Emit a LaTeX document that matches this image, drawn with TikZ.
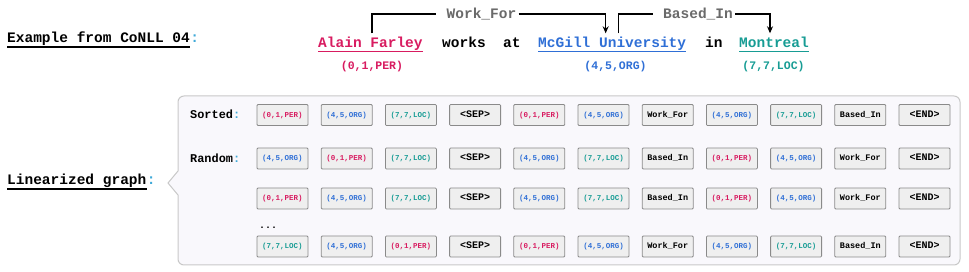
\documentclass[tikz,border=0pt]{standalone}
\usepackage{fontspec}
\setmonofont{Liberation Mono}
\usetikzlibrary{arrows.meta}
\definecolor{per}{HTML}{D81B60}
\definecolor{org}{HTML}{2F6FD6}
\definecolor{loc}{HTML}{179C94}
\definecolor{colonc}{HTML}{3FA9D8}
\definecolor{relg}{HTML}{6A6A6A}
\definecolor{panelfill}{HTML}{F9F8FC}
\definecolor{panelline}{HTML}{C8C8C8}
\definecolor{boxfill}{HTML}{EFEFEF}
\definecolor{boxline}{HTML}{8A8A8A}
\begin{document}
\begin{tikzpicture}[x=1pt,y=-1pt,
  big/.style={font=\ttfamily\bfseries\fontsize{14.5}{16}\selectfont, inner sep=0pt},
  word/.style={big, anchor=base west, inner ysep=4pt},
  sub/.style={font=\ttfamily\bfseries\fontsize{11.5}{13}\selectfont, inner sep=0pt, anchor=base},
  rel/.style={big, text=relg, text height=9pt, text depth=0pt, anchor=center},
  ul/.style={line width=1.2pt},
  conn/.style={line width=1.3pt, black},
  lab/.style={font=\ttfamily\bfseries\fontsize{11.9}{13}\selectfont, inner sep=0pt, anchor=base west},
  box/.style={draw=boxline, fill=boxfill, line width=0.8pt, rounded corners=1pt,
    minimum width=51pt, minimum height=21pt, inner sep=0pt,
    text height=6pt, text depth=1.5pt},
  tup/.style={box, font=\ttfamily\bfseries\fontsize{7.5}{8}\selectfont},
  pertok/.style={tup, text=per, node contents={(0,1,PER)}},
  orgtok/.style={tup, text=org, node contents={(4,5,ORG)}},
  loctok/.style={tup, text=loc, node contents={(7,7,LOC)}},
  septok/.style={box, font=\ttfamily\bfseries\fontsize{10}{11}\selectfont, node contents={<SEP>}},
  endtok/.style={box, font=\ttfamily\bfseries\fontsize{10}{11}\selectfont, node contents={<END>}},
  wftok/.style={box, font=\ttfamily\bfseries\fontsize{8.5}{9}\selectfont, node contents={Work\_For}},
  bitok/.style={box, font=\ttfamily\bfseries\fontsize{8.5}{9}\selectfont, node contents={Based\_In}},
]
\useasboundingbox (0,0) rectangle (969,272);

% ---- top sentence
\node[big, anchor=base west] (ex) at (7,43) {Example from CoNLL 04};
\node[big, anchor=base west, text=colonc] (excolon) at (ex.base east) {:};
\draw[ul] ([yshift=-4pt]ex.base west) -- ([yshift=-4pt]ex.base east);

\node[word, text=per] (alain) at (318,48) {Alain Farley};
\node[word] (works) at (442,48) {works};
\node[word] (at) at (503,48) {at};
\node[word, text=org] (mcgill) at (538,48) {McGill University};
\node[word] (in) at (705,48) {in};
\node[word, text=loc] (montreal) at (739,48) {Montreal};
\draw[ul, per] ([yshift=-3.5pt]alain.base west) -- ([yshift=-3.5pt]alain.base east);
\draw[ul, org] ([yshift=-3.5pt]mcgill.base west) -- ([yshift=-3.5pt]mcgill.base east);
\draw[ul, loc] ([yshift=-3.5pt]montreal.base west) -- ([yshift=-3.5pt]montreal.base east);

\node[sub, text=per] (s1) at (372,70) {(0,1,PER)};
\node[sub, text=org] (s2) at (615.5,70) {(4,5,ORG)};
\node[sub, text=loc] (s3) at (773.5,70) {(7,7,LOC)};

\node[rel] (wf) at (481.5,14) {Work\_For};
\node[rel] (bi) at (698,14) {Based\_In};
\draw[conn] ([xshift=1.5pt]alain.north) |- ([xshift=-10pt]wf.west);
\draw[conn, -{Stealth[length=7pt,width=6pt]}] ([xshift=2pt]wf.east) -| ([xshift=-6.5pt]mcgill.north);
\draw[conn] ([xshift=6.5pt]mcgill.north) |- ([xshift=-10pt]bi.west);
\draw[conn, -{Stealth[length=7pt,width=6pt]}] ([xshift=2pt]bi.east) -| ([xshift=-4pt]montreal.north);

% ---- linearized graph
\node[big, anchor=base west] (lg) at (7,185) {Linearized graph};
\node[big, anchor=base west, text=colonc] (lgcolon) at (lg.base east) {:};
\draw[ul] ([yshift=-4pt]lg.base west) -- ([yshift=-4pt]lg.base east);

\draw[draw=panelline, fill=panelfill, line width=1pt]
  (178,171) [rounded corners=6pt] -- (178,96) -- (960,96) -- (960,265) -- (178,265)
  [sharp corners] -- (178,195) -- (168,183) -- cycle;

\node[lab] (sorted) at (190,119) {Sorted\textcolor{colonc}{:}};
\node[lab] (random) at (190,162.5) {Random\textcolor{colonc}{:}};
\node[font=\ttfamily\bfseries\fontsize{10}{11}\selectfont, inner sep=0pt, anchor=base west] (dots) at (259,229) {...};

\foreach \t [count=\i] in {pertok,orgtok,loctok,septok,pertok,orgtok,wftok,orgtok,loctok,bitok,endtok}
  \node[\t, name=ra-\i, at={({282.5+64.2*(\i-1)},115)}];
\foreach \t [count=\i] in {orgtok,pertok,loctok,septok,orgtok,loctok,bitok,pertok,orgtok,wftok,endtok}
  \node[\t, name=rb-\i, at={({282.5+64.2*(\i-1)},158.5)}];
\foreach \t [count=\i] in {pertok,orgtok,loctok,septok,orgtok,loctok,bitok,pertok,orgtok,wftok,endtok}
  \node[\t, name=rc-\i, at={({282.5+64.2*(\i-1)},198.5)}];
\foreach \t [count=\i] in {loctok,orgtok,pertok,septok,pertok,orgtok,wftok,orgtok,loctok,bitok,endtok}
  \node[\t, name=rd-\i, at={({282.5+64.2*(\i-1)},246.5)}];
\end{tikzpicture}
\end{document}
